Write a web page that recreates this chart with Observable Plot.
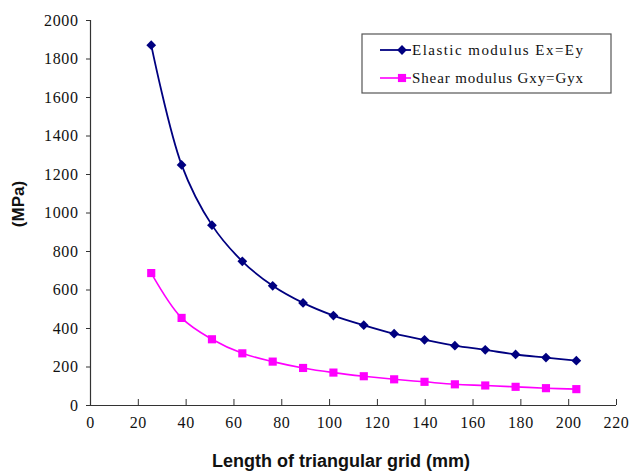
<!DOCTYPE html>
<html>
<head>
<meta charset="utf-8">
<script src="https://cdn.jsdelivr.net/npm/d3@7"></script>
<script src="https://cdn.jsdelivr.net/npm/@observablehq/plot@0.6"></script>
<style>
  html, body { margin: 0; padding: 0; background: #fff; }
  #chart svg { display: block; }
</style>
</head>
<body>
<div id="chart"></div>
<script>
// Data
const gridLength = [25.4, 38.1, 50.8, 63.5, 76.2, 88.9, 101.6, 114.3, 127.0, 139.7, 152.4, 165.1, 177.8, 190.5, 203.2];
const elasticModulus = [1872, 1250, 937, 749, 622, 533, 467, 417, 373, 341, 311, 289, 265, 249, 233];
const shearModulus = [688, 455, 344, 271, 228, 195, 171, 152, 136, 123, 110, 104, 97, 90, 85];
const seriesNames = ["Elastic modulus Ex=Ey", "Shear modulus Gxy=Gyx"];
const seriesColors = ["#000080", "#ff00ff"];
const seriesSymbols = ["diamond2", "square"];
const xTicks = [0, 20, 40, 60, 80, 100, 120, 140, 160, 180, 200, 220];
const yTicks = [0, 200, 400, 600, 800, 1000, 1200, 1400, 1600, 1800, 2000];
const xLabel = "Length of triangular grid (mm)";
const yLabel = "(MPa)";

const elastic = gridLength.map((x, i) => ({x, y: elasticModulus[i]}));
const shear = gridLength.map((x, i) => ({x, y: shearModulus[i]}));

const W = 629, H = 471;
const serif = "'Liberation Serif', 'DejaVu Serif', serif";

const plot = Plot.plot({
  width: W,
  height: H,
  marginLeft: 90,
  marginRight: 13,
  marginTop: 20,
  marginBottom: 66,
  style: {fontFamily: serif, fontSize: "16px", color: "#000", background: "#fff", overflow: "visible"},
  x: {domain: [0, 220]},
  y: {domain: [0, 2000]},
  marks: [
    // x ticks pointing inward (upward)
    Plot.axisX({ticks: xTicks, tickSize: 6, dy: -6, tickFormat: () => "", label: null, stroke: "#333"}),
    // x tick labels
    Plot.axisX({ticks: xTicks, tickSize: 0, tickPadding: 11, label: null, tickFormat: d => String(d), fill: "#111", fontSize: 16}),
    // y axis ticks + labels
    Plot.axisY({ticks: yTicks, tickSize: 4, tickPadding: 8, label: null, tickFormat: d => String(d), stroke: "#333", fill: "#111", fontSize: 16}),
    Plot.ruleX([0], {stroke: "#333", strokeWidth: 1.2}),
    Plot.ruleY([0], {stroke: "#333", strokeWidth: 1.2}),
    Plot.line(elastic, {x: "x", y: "y", stroke: seriesColors[0], strokeWidth: 1.8, curve: "catmull-rom"}),
    Plot.line(shear, {x: "x", y: "y", stroke: seriesColors[1], strokeWidth: 1.6, curve: "catmull-rom"}),
    Plot.dot(elastic, {x: "x", y: "y", symbol: seriesSymbols[0], r: 4.4, fill: seriesColors[0], stroke: "none"}),
    Plot.dot(shear, {x: "x", y: "y", symbol: seriesSymbols[1], r: 4.6, fill: seriesColors[1], stroke: "none"})
  ]
});

document.getElementById("chart").appendChild(plot);

const svg = d3.select(plot);

// Serif tick labels
svg.selectAll("g[aria-label$='tick label'], g[aria-label$='tick label'] text")
  .style("font-family", serif)
  .style("letter-spacing", "0.6px");

// Axis titles
svg.append("text")
  .attr("x", 341).attr("y", 467)
  .attr("text-anchor", "middle")
  .style("font-family", "'Liberation Sans', Arial, sans-serif")
  .style("font-weight", "bold")
  .style("font-size", "18px")
  .attr("fill", "#111")
  .text(xLabel);

svg.append("text")
  .attr("transform", "translate(24,204) rotate(-90)")
  .attr("text-anchor", "middle")
  .style("font-family", "'Liberation Sans', Arial, sans-serif")
  .style("font-weight", "bold")
  .style("font-size", "17px")
  .attr("fill", "#111")
  .text(yLabel);

// Legend (inside plot area, top right)
const lg = svg.append("g");
lg.append("rect")
  .attr("x", 362).attr("y", 34).attr("width", 249).attr("height", 59)
  .attr("fill", "#fff").attr("stroke", "#555").attr("stroke-width", 1.2);
const symMap = {diamond2: d3.symbolDiamond2, square: d3.symbolSquare};
const symR = [4.4, 4.6];
seriesNames.forEach((name, i) => {
  const cy = 50 + i * 28;
  lg.append("line").attr("x1", 380).attr("x2", 411).attr("y1", cy).attr("y2", cy)
    .attr("stroke", seriesColors[i]).attr("stroke-width", i === 0 ? 1.8 : 1.6);
  lg.append("path")
    .attr("transform", `translate(402,${cy})`)
    .attr("d", d3.symbol(symMap[seriesSymbols[i]], Math.PI * symR[i] * symR[i])())
    .attr("fill", seriesColors[i]);
  lg.append("text")
    .attr("x", 412).attr("y", cy).attr("dy", "0.36em")
    .attr("text-anchor", "start")
    .attr("textLength", 171).attr("lengthAdjust", "spacing")
    .style("font-family", serif)
    .style("font-size", "15px")
    .attr("fill", "#111")
    .text(name);
});
</script>
</body>
</html>
